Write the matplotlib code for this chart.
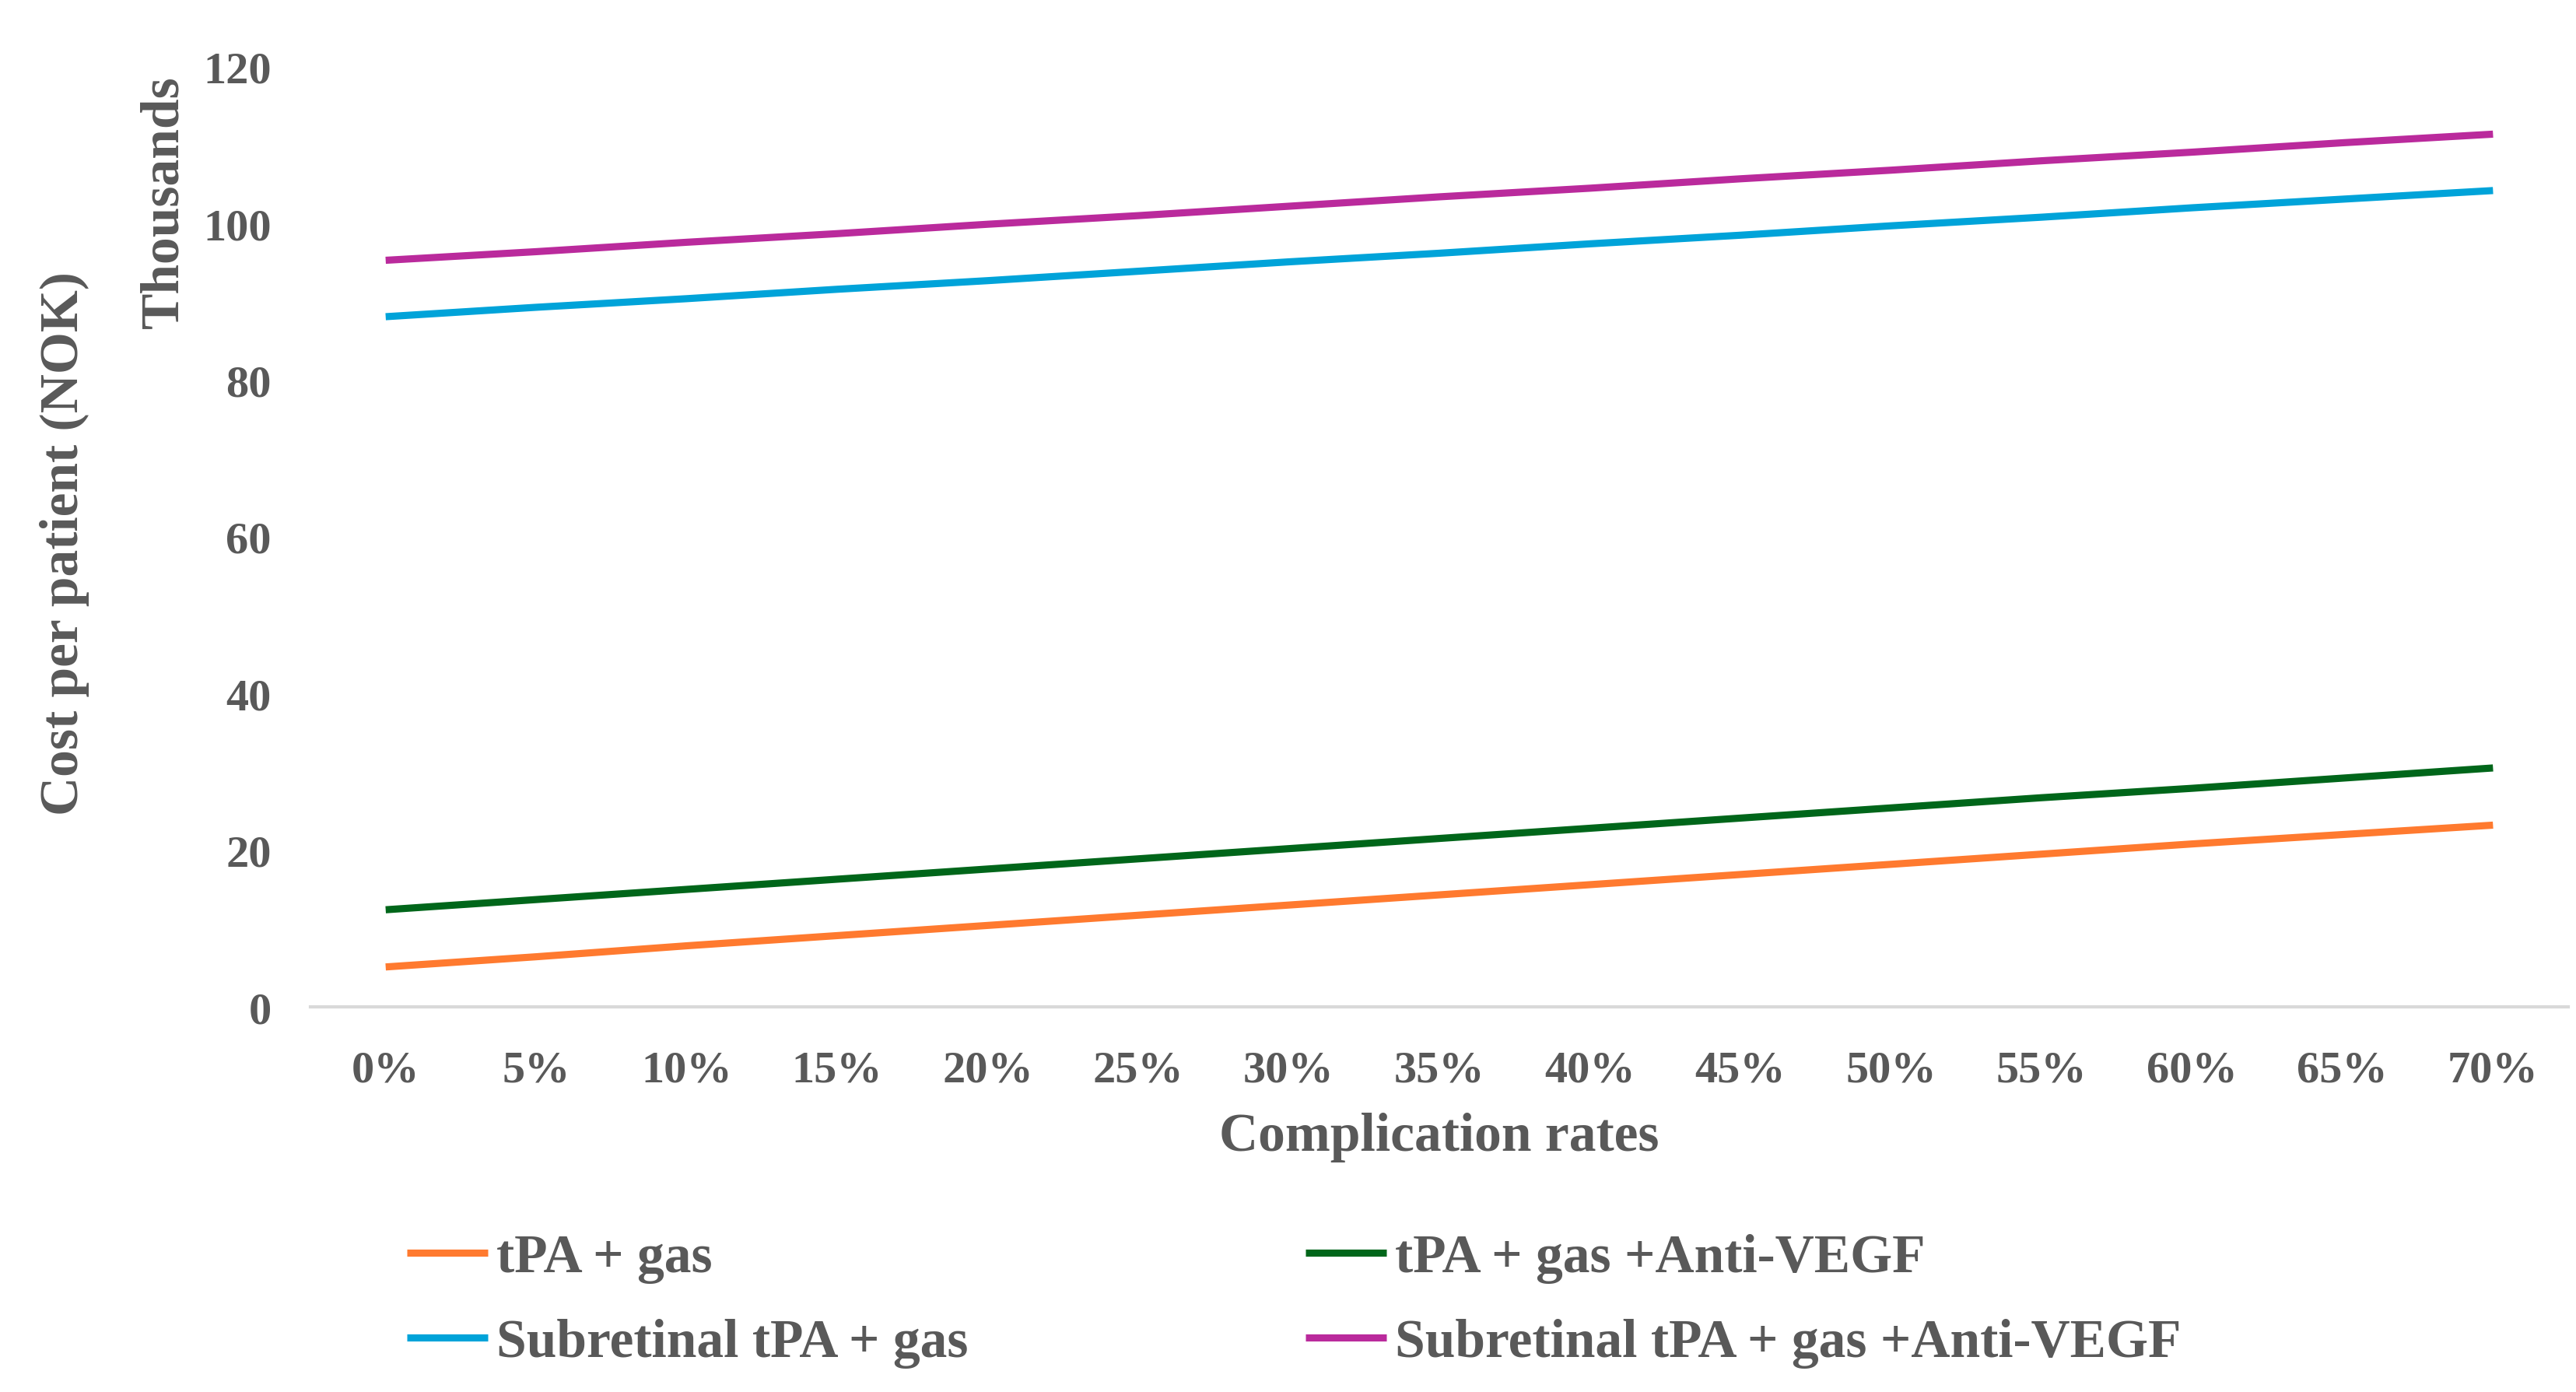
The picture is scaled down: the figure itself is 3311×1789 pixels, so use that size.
import matplotlib
matplotlib.use("Agg")
import matplotlib.pyplot as plt

rates = ["0%", "5%", "10%", "15%", "20%", "25%", "30%", "35%",
         "40%", "45%", "50%", "55%", "60%", "65%", "70%"]

tpa_gas = [5.1, 6.4, 7.8, 9.1, 10.4, 11.7, 13.0, 14.3, 15.6, 16.9, 18.2, 19.5, 20.8, 22.0, 23.2]
tpa_gas_vegf = [12.4, 13.7, 15.0, 16.3, 17.6, 18.9, 20.2, 21.5, 22.8, 24.1, 25.4, 26.7, 27.9, 29.2, 30.5]
sub_tpa_gas = [88.1, 89.3, 90.4, 91.6, 92.7, 93.9, 95.1, 96.2, 97.4, 98.5, 99.7, 100.8, 102.0, 103.1, 104.2]
sub_tpa_gas_vegf = [95.3, 96.4, 97.6, 98.7, 99.9, 101.0, 102.2, 103.4, 104.5, 105.7, 106.8, 108.0, 109.1, 110.3, 111.4]

series_names = ["tPA + gas", "tPA + gas +Anti-VEGF",
                "Subretinal tPA + gas", "Subretinal tPA + gas +Anti-VEGF"]
series_colors = ["#FF7A2F", "#00661A", "#00A3D9", "#BA2A9C"]

text_color = "#595959"
plt.rcParams['font.family'] = ['Liberation Serif', 'DejaVu Serif']
plt.rcParams['font.weight'] = 'bold'
plt.rcParams['axes.labelweight'] = 'bold'

fig = plt.figure(figsize=(16.555, 8.95), dpi=200)
ax = fig.add_axes([0.1205, 0.2765, 0.8765, 0.675])

x = list(range(len(rates)))
lines = []
for vals, name, col in zip([tpa_gas, tpa_gas_vegf, sub_tpa_gas, sub_tpa_gas_vegf],
                           series_names, series_colors):
    ln, = ax.plot(x, vals, color=col, lw=3.3, label=name, solid_capstyle='butt')
    lines.append(ln)

ax.set_xlim(-0.5, len(rates) - 0.5)
ax.set_ylim(0, 120)
ax.set_yticks(range(0, 121, 20))
ax.set_xticks(x)
ax.set_xticklabels(rates)

for s in ['top', 'right', 'left']:
    ax.spines[s].set_visible(False)
ax.spines['bottom'].set_color('#D9D9D9')
ax.spines['bottom'].set_linewidth(1.5)
ax.tick_params(axis='both', length=0, labelsize=21, labelcolor=text_color)
ax.tick_params(axis='y', pad=18)
ax.tick_params(axis='x', pad=20)

ax.set_xlabel("Complication rates", fontsize=25, color=text_color,
              fontweight='bold', labelpad=10)
fig.text(0.025, 0.61, "Cost per patient (NOK)", rotation=90, fontsize=25,
         color=text_color, ha='center', va='center', fontweight='bold')
fig.text(0.064, 0.855, "Thousands", rotation=90, fontsize=25,
         color=text_color, ha='center', va='center', fontweight='bold')

order = [0, 2, 1, 3]
leg = fig.legend([lines[i] for i in order], [series_names[i] for i in order],
                 ncol=2, loc='upper left', bbox_to_anchor=(0.158, 0.114),
                 frameon=False, fontsize=25, handlelength=1.5, handletextpad=0.15,
                 columnspacing=6.25, labelspacing=0.65, borderaxespad=0, borderpad=0)
for t in leg.get_texts():
    t.set_color(text_color)

fig.savefig("out.png", dpi=200, facecolor='white')
